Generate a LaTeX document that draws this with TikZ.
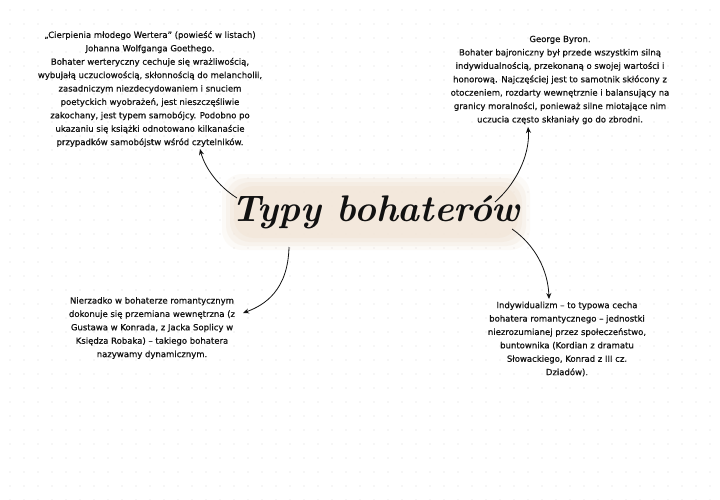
\documentclass[tikz,border=0pt]{standalone}
\usepackage{fontspec}
\newfontfamily\txtfont{DejaVu Sans}[FakeBold=0.6,Ligatures=TeX]
\usetikzlibrary{arrows.meta}
\definecolor{dotc}{HTML}{DCDCDC}
\definecolor{glow}{HTML}{F2E6D8}
\definecolor{ink}{HTML}{111111}
\tikzset{
  txt/.style={font=\txtfont\fontsize{8.5}{13.4}\selectfont, text=ink, align=center, inner sep=0pt},
  conn/.style={draw=ink, line width=0.8pt, -{Stealth[length=6pt,width=5pt]}},
}
\begin{document}
\begin{tikzpicture}[x=1pt,y=-1pt]
\useasboundingbox (0,0) rectangle (720,500);
\fill[white] (0,0) rectangle (720,500);
\foreach \i in {0,...,50}{\foreach \j in {0,...,35}{
  \fill[dotc] ({10+14*\i},{10+14*\j}) circle (0.6);
}}
% title glow
\foreach \o/\r in {0.2/18, 0.3/14, 0.4/10, 0.6/6}{
  \fill[glow, opacity=\o, rounded corners=20pt] ({240-\r},{192-\r}) rectangle ({512+\r},{232+\r});
}
\node[font=\bfseries\itshape\fontsize{37}{37}\selectfont, text=ink, inner sep=0pt] (title) at (376,212) {Typy bohaterów};

\node[txt] (t1) at (150,89) {„Cierpienia młodego Wertera" (powieść w listach)\\
Johanna Wolfganga Goethego.\\
Bohater werteryczny cechuje się wrażliwością,\\
wybujałą uczuciowością, skłonnością do melancholii,\\
zasadniczym niezdecydowaniem i snuciem\\
poetyckich wyobrażeń, jest nieszczęśliwie\\
zakochany, jest typem samobójcy. Podobno po\\
ukazaniu się książki odnotowano kilkanaście\\
przypadków samobójstw wśród czytelników.};

\node[txt] (t2) at (560,80) {George Byron.\\
Bohater bajroniczny był przede wszystkim silną\\
indywidualnością, przekonaną o swojej wartości i\\
honorową. Najczęściej jest to samotnik skłócony z\\
otoczeniem, rozdarty wewnętrznie i balansujący na\\
granicy moralności, ponieważ silne miotające nim\\
uczucia często skłaniały go do zbrodni.};

\node[txt] (t3) at (152,328) {Nierzadko w bohaterze romantycznym\\
dokonuje się przemiana wewnętrzna (z\\
Gustawa w Konrada, z Jacka Soplicy w\\
Księdza Robaka) – takiego bohatera\\
nazywamy dynamicznym.};

\node[txt] (t4) at (567,339) {Indywidualizm – to typowa cecha\\
bohatera romantycznego – jednostki\\
niezrozumianej przez społeczeństwo,\\
buntownika (Kordian z dramatu\\
Słowackiego, Konrad z III cz.\\
Dziadów).};

\coordinate (s1) at (237,198);
\coordinate (e1) at (200,149);
\coordinate (s2) at (495,202);
\coordinate (e2) at (528,127);
\coordinate (s3) at (289,247);
\coordinate (e3) at (243,313);
\coordinate (s4) at (512,229);
\coordinate (e4) at (549,299);
\draw[conn] (s1) .. controls (218,186) and (205,168) .. (e1);
\draw[conn] (s2) .. controls (520,180) and (530,150) .. (e2);
\draw[conn] (s3) .. controls (288,290) and (265,305) .. (e3);
\draw[conn] (s4) .. controls (535,245) and (548,270) .. (e4);
\end{tikzpicture}
\end{document}
